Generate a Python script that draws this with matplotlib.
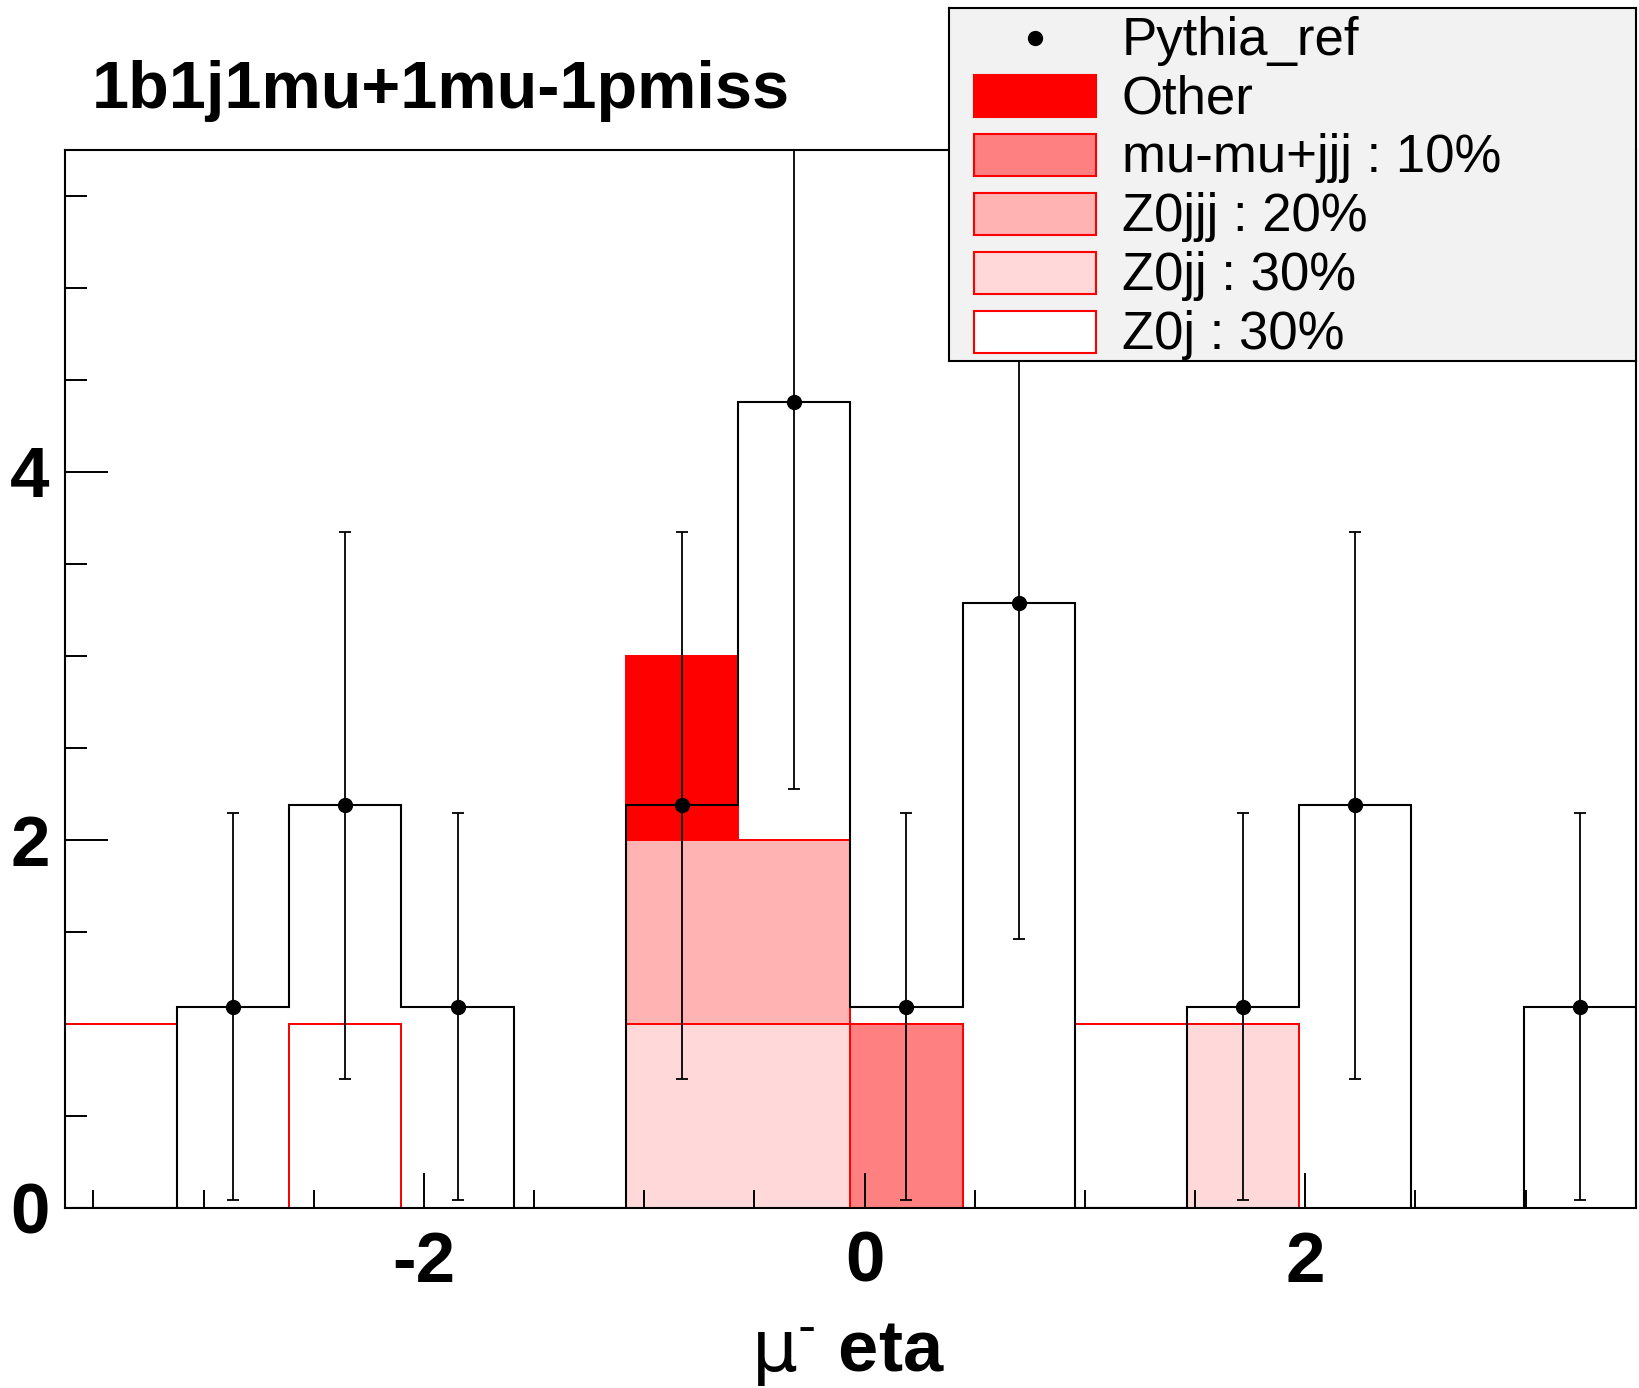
import numpy as np
import matplotlib
matplotlib.use("Agg")
import matplotlib.pyplot as plt
from matplotlib.patches import Rectangle
from matplotlib.ticker import MultipleLocator, FixedLocator

plt.rcParams['font.family'] = ['Liberation Sans', 'DejaVu Sans']
plt.rcParams['axes.unicode_minus'] = False

# ---------------- data ----------------
edges = np.linspace(-3.63, 3.50, 15)
pythia_ref = [0, 1.095, 2.19, 1.095, 0, 2.19, 4.38, 1.095, 3.285, 0, 1.095, 2.19, 0, 1.095]
pythia_err = [0, 1.05, 1.485, 1.05, 0, 1.485, 2.10, 1.05, 1.82, 0, 1.05, 1.485, 0, 1.05]
z0j      = [1, 0, 1, 0, 0, 0, 0, 0, 0, 1, 0, 0, 0, 0]
z0jj     = [0, 0, 0, 0, 0, 1, 1, 0, 0, 0, 1, 0, 0, 0]
z0jjj    = [0, 0, 0, 0, 0, 1, 1, 0, 0, 0, 0, 0, 0, 0]
mumujjj  = [0, 0, 0, 0, 0, 0, 0, 1, 0, 0, 0, 0, 0, 0]
other    = [0, 0, 0, 0, 0, 1, 0, 0, 0, 0, 0, 0, 0, 0]
stack_labels = ['Z0j : 30%', 'Z0jj : 30%', 'Z0jjj : 20%', 'mu-mu+jjj : 10%', 'Other']
stack_colors = ['#FFFFFF', '#FFD9D9', '#FFB3B3', '#FF8080', '#FF0000']
title = '1b1j1mu+1mu-1pmiss'
xlabel = r'$\mathrm{\mu}^{\text{-}}$ eta'
x_ticks = [-2, 0, 2]
y_ticks = [0, 2, 4]

W, H = 1639, 1388
fig = plt.figure(figsize=(W / 100, H / 100), dpi=100)
ax_l, ax_r, ax_t, ax_b = 64.8, 1635.8, 149.5, 1208.4
ax = fig.add_axes([ax_l / W, 1 - ax_b / H, (ax_r - ax_l) / W, (ax_b - ax_t) / H])

# stacked backgrounds (cumulative, drawn top layer first as ROOT does)
comps = np.array([z0j, z0jj, z0jjj, mumujjj, other], dtype=float)
cum = np.cumsum(comps, axis=0)
for i in range(len(comps) - 1, -1, -1):
    ax.stairs(cum[i], edges, baseline=0, fill=True, color=stack_colors[i], zorder=1 + 0.1 * (5 - i))
    ax.stairs(cum[i], edges, baseline=0, fill=False, color='red', lw=1.4, zorder=1.05 + 0.1 * (5 - i))

# reference histogram outline + points
ax.stairs(pythia_ref, edges, baseline=0, color='black', lw=1.5, zorder=3)
centers = 0.5 * (edges[:-1] + edges[1:])
vals = np.array(pythia_ref)
errs = np.array(pythia_err)
m = vals > 0
ax.errorbar(centers[m], vals[m], yerr=errs[m], fmt='o', color='black', ms=10,
            elinewidth=1.3, capsize=4, capthick=1.3, zorder=4)

ax.set_xlim(edges[0], edges[-1])
ax.set_ylim(0, 5.75)

ax.xaxis.set_major_locator(FixedLocator(x_ticks))
ax.xaxis.set_minor_locator(MultipleLocator(0.5))
ax.yaxis.set_major_locator(FixedLocator(y_ticks))
ax.yaxis.set_minor_locator(MultipleLocator(0.5))
ax.tick_params(axis='both', which='both', direction='in', top=False, right=False, width=1.4)
ax.tick_params(axis='y', which='major', length=31, pad=11, labelsize=51)
ax.tick_params(axis='y', which='minor', length=16)
ax.tick_params(axis='x', which='major', length=25, pad=16, labelsize=51)
ax.tick_params(axis='x', which='minor', length=13)
for lab in ax.get_xticklabels() + ax.get_yticklabels():
    lab.set_fontweight('bold')
for s in ax.spines.values():
    s.set_linewidth(1.5)
    s.set_zorder(6)

ax.set_xlabel(xlabel, fontsize=52, fontweight='bold', va='baseline')
ax.xaxis.set_label_coords((848 - ax_l) / (ax_r - ax_l), (ax_b - 1371) / (ax_b - ax_t))

fig.text(92 / W, 1 - 107.7 / H, title, fontsize=48, fontweight='bold', va='baseline')

# legend box
lx0, ly0, lx1, ly1 = 949, 8.4, 1636, 360.6
lax = fig.add_axes([lx0 / W, 1 - ly1 / H, (lx1 - lx0) / W, (ly1 - ly0) / H])
lax.set_xlim(0, lx1 - lx0)
lax.set_ylim(ly1 - ly0, 0)
lax.set_facecolor('#F2F2F2')
lax.set_xticks([])
lax.set_yticks([])
for s in lax.spines.values():
    s.set_linewidth(1.5)
rows = [29.2 + 58.8 * k for k in range(6)]
sw_x0, sw_w, sw_h, tx = 25, 121.5, 42, 172.6
lax.plot([sw_x0 + sw_w / 2], [rows[0]], 'o', color='black', ms=10)
lax.text(tx, rows[0] + 17, 'Pythia_ref', fontsize=38, va='baseline')
for k, i in enumerate(range(len(comps) - 1, -1, -1)):
    r = rows[k + 1]
    lax.add_patch(Rectangle((sw_x0, r - sw_h / 2), sw_w, sw_h, facecolor=stack_colors[i],
                            edgecolor='red', lw=1.5))
    lax.text(tx, r + 17, stack_labels[i], fontsize=38, va='baseline')

fig.savefig('out.png', dpi=100)
